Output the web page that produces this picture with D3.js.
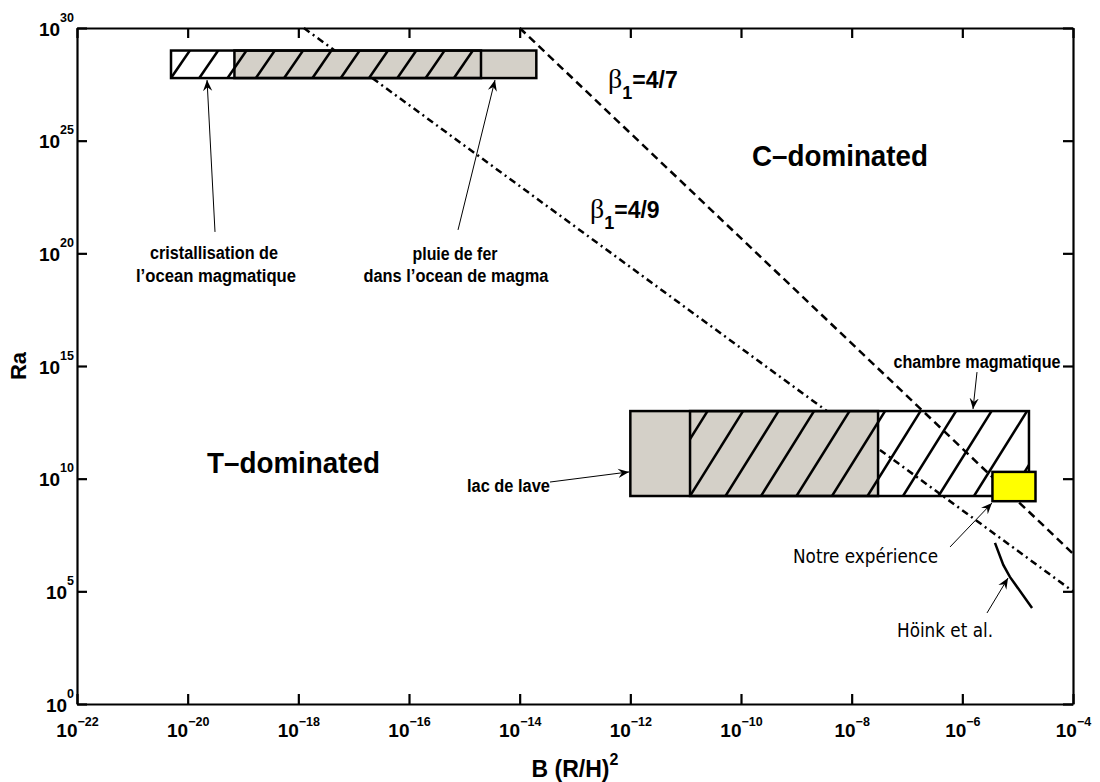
<!DOCTYPE html>
<html><head><meta charset="utf-8">
<script src="https://cdn.jsdelivr.net/npm/d3@7"></script>
<style>body{margin:0;background:#fff}svg{display:block}</style>
</head><body>
<svg id="c" width="1100" height="782"></svg>
<script>
// ---------- data ----------
const xTickExp = [-22,-20,-18,-16,-14,-12,-10,-8,-6,-4];
const yTickExp = [0,5,10,15,20,25,30];

const regionNames = ["cristallisation de l'ocean magmatique","pluie de fer dans l'ocean de magma","lac de lave","chambre magmatique","Notre expérience"];
const regionBmin  = [5e-21, 7e-20, 1e-12, 1.2e-11, 3.5e-6];
const regionBmax  = [2e-15, 2e-14, 3e-8, 1.6e-5, 2.1e-5];
const regionRamin = [6e27, 6e27, 1.7e9, 1.7e9, 1e9];
const regionRamax = [1e29, 1e29, 1e13, 1e13, 2e10];
const regionKind  = ["hatch","gray","gray","hatch","yellow"];

const betaNames = ["4/7","4/9"];
const betaB  = [[1e-14, 1e-4],[1.26e-18, 1e-4]];
const betaRa = [[1e30, 4.7e6],[1e30, 1e5]];

const hoinkB  = [3.89e-6, 5.5e-6, 7.24e-6, 1.82e-5];
const hoinkRa = [1.41e7, 1.48e6, 4.37e5, 1.82e4];

// ---------- setup ----------
const svg = d3.select("#c");
const L = 77, R = 1073, T = 28, B = 704;
const x = d3.scaleLog().domain([1e-22,1e-4]).range([L,R]);
const y = d3.scaleLog().domain([1,1e30]).range([B,T]);
const X = e => x(Math.pow(10,e)), Y = e => y(Math.pow(10,e));
const SANS = "'Liberation Sans', Arial, Helvetica, sans-serif";
const GRAY = "#d4d0c8";

const defs = svg.append("defs");
defs.append("marker").attr("id","arr").attr("viewBox","0 0 10 10")
  .attr("refX",10).attr("refY",5).attr("markerWidth",11).attr("markerHeight",11)
  .attr("markerUnits","userSpaceOnUse").attr("orient","auto")
  .append("path").attr("d","M0,0.8 L10,5 L0,9.2 L3.5,5 Z").attr("fill","#000");

// ---------- beta lines (under boxes) ----------
const lineGen = d3.line().x(d=>x(d[0])).y(d=>y(d[1]));
const dashes = ["8,5","7,4,2,4"];
betaNames.forEach((n,i)=>{
  svg.append("path").datum(betaB[i].map((b,j)=>[b,betaRa[i][j]]))
    .attr("d",lineGen).attr("fill","none").attr("stroke","#000")
    .attr("stroke-width",2.5).attr("stroke-dasharray",dashes[i]);
});

// ---------- boxes ----------
const hatchSpacing = {top:28.3, bottom:35.5};
const hatchSlope = {top:0.685, bottom:0.624};
const rects = regionNames.map((n,i)=>({
  name:n, kind:regionKind[i],
  x0:x(regionBmin[i]), x1:x(regionBmax[i]),
  y0:y(regionRamax[i]), y1:y(regionRamin[i]),
  grp: regionRamin[i] > 1e20 ? "top" : "bottom"
}));
rects.filter(r=>r.kind==="gray").forEach(r=>{
  svg.append("rect").attr("x",r.x0).attr("y",r.y0).attr("width",r.x1-r.x0).attr("height",r.y1-r.y0)
    .attr("fill",GRAY);
});
rects.filter(r=>r.kind==="hatch").forEach((r,k)=>{
  const id = "clip"+k;
  defs.append("clipPath").attr("id",id).append("rect")
    .attr("x",r.x0).attr("y",r.y0).attr("width",r.x1-r.x0).attr("height",r.y1-r.y0);
  const h = r.y1-r.y0, dx = h*hatchSlope[r.grp], s = hatchSpacing[r.grp];
  const g = svg.append("g").attr("clip-path",`url(#${id})`);
  const starts = d3.range(Math.floor(-dx/s)-1, Math.ceil((r.x1-r.x0)/s)+1).map(j=>r.x0+j*s);
  g.selectAll("line").data(starts).join("line")
    .attr("x1",d=>d).attr("y1",r.y1).attr("x2",d=>d+dx).attr("y2",r.y0)
    .attr("stroke","#000").attr("stroke-width",2.5);
});
rects.filter(r=>r.kind!=="yellow").forEach(r=>{
  svg.append("rect").attr("x",r.x0).attr("y",r.y0).attr("width",r.x1-r.x0).attr("height",r.y1-r.y0)
    .attr("fill","none").attr("stroke","#000").attr("stroke-width",2.5);
});
rects.filter(r=>r.kind==="yellow").forEach(r=>{
  svg.append("rect").attr("x",r.x0).attr("y",r.y0).attr("width",r.x1-r.x0).attr("height",r.y1-r.y0)
    .attr("fill","#ffff00").attr("stroke","#000").attr("stroke-width",2.5);
});

// ---------- Höink curve ----------
svg.append("path").datum(hoinkB.map((b,i)=>[b,hoinkRa[i]]))
  .attr("d",lineGen).attr("fill","none").attr("stroke","#000").attr("stroke-width",2.5);

// ---------- axes ----------
const xt = xTickExp.map(e=>Math.pow(10,e)), yt = yTickExp.map(e=>Math.pow(10,e));
function styleAxis(g){
  g.selectAll(".domain").attr("stroke","#000").attr("stroke-width",2.2);
  g.selectAll(".tick line").attr("stroke","#000").attr("stroke-width",2.2);
}
const gb = svg.append("g").attr("transform",`translate(0,${B})`)
  .call(d3.axisBottom(x).tickValues(xt).tickSizeInner(-10).tickSizeOuter(0));
styleAxis(gb);
gb.selectAll(".tick text").each(function(d){
  const e = Math.round(Math.log10(d));
  const t = d3.select(this).text(null).attr("y",33).attr("dy",null)
    .attr("font-family",SANS).attr("font-weight","bold").attr("font-size",19).attr("fill","#000")
    .attr("text-anchor","middle");
  t.append("tspan").text("10");
  t.append("tspan").attr("dy",-11).attr("font-size",12.5).text(e<0 ? "\u2212"+(-e) : e);
});
const gl = svg.append("g").attr("transform",`translate(${L},0)`)
  .call(d3.axisLeft(y).tickValues(yt).tickSizeInner(-10).tickSizeOuter(0));
styleAxis(gl);
gl.selectAll(".tick text").each(function(d){
  const e = Math.round(Math.log10(d));
  const t = d3.select(this).text(null).attr("x",-3).attr("y",7).attr("dy",null)
    .attr("font-family",SANS).attr("font-weight","bold").attr("font-size",19).attr("fill","#000")
    .attr("text-anchor","end");
  t.append("tspan").text("10");
  t.append("tspan").attr("dy",-14).attr("font-size",12.5).text(e);
});
const gt = svg.append("g").attr("transform",`translate(0,${T})`)
  .call(d3.axisTop(x).tickValues(xt).tickSizeInner(-10).tickSizeOuter(0).tickFormat(""));
styleAxis(gt);
const gr = svg.append("g").attr("transform",`translate(${R},0)`)
  .call(d3.axisRight(y).tickValues(yt).tickSizeInner(-10).tickSizeOuter(0).tickFormat(""));
styleAxis(gr);

// axis titles
const xl = svg.append("text").attr("x",(L+R)/2).attr("y",777).attr("text-anchor","middle")
  .attr("font-family",SANS).attr("font-weight","bold").attr("font-size",23);
xl.append("tspan").text("B (R/H)");
xl.append("tspan").attr("dy",-12).attr("font-size",16).text("2");
svg.append("text").attr("transform",`translate(26,${(T+B)/2}) rotate(-90)`).attr("text-anchor","middle")
  .attr("font-family",SANS).attr("font-weight","bold").attr("font-size",22).text("Ra");

// ---------- labels ----------
function label(lb, lr, str, o){
  const t = svg.append("text").attr("x",X(lb)).attr("y",Y(lr))
    .attr("font-family",o.family||SANS).attr("font-weight",o.weight||"bold")
    .attr("font-size",o.size).attr("text-anchor",o.anchor||"start").attr("fill","#000").text(str);
  if(o.width) t.attr("textLength",o.width).attr("lengthAdjust","spacingAndGlyphs");
  return t;
}
label(-9.801, 23.876, "C\u2013dominated", {size:30, width:176});
label(-19.651, 10.252, "T\u2013dominated", {size:30, width:173});
label(-19.524, 19.749, "cristallisation de", {size:18, width:128, anchor:"middle"});
label(-19.488, 18.728, "l\u2019ocean magmatique", {size:18, width:160, anchor:"middle"});
label(-15.169, 19.705, "pluie de fer", {size:18, width:85, anchor:"middle"});
label(-15.151, 18.728, "dans l\u2019ocean de magma", {size:18, width:185, anchor:"middle"});
label(-14.952, 9.409, "lac de lave", {size:18, width:83});
label(-5.735, 14.912, "chambre magmatique", {size:18, width:167, anchor:"middle"});
label(-9.06, 6.258, "Notre expérience", {size:19, width:145, family:"'DejaVu Sans', sans-serif", weight:"normal"});
label(-7.181, 2.974, "Höink et al.", {size:19, width:96, family:"'DejaVu Sans', sans-serif", weight:"normal"});

// beta labels
const betaPos = [[-12.403, 27.338],[-12.729, 21.57]];
betaNames.forEach((n,i)=>{
  const t = svg.append("text").attr("x",X(betaPos[i][0])).attr("y",Y(betaPos[i][1])).attr("fill","#000");
  t.append("tspan").attr("font-family","'Liberation Serif','Times New Roman',serif").attr("font-size",28).text("\u03b2");
  t.append("tspan").attr("font-family",SANS).attr("font-weight","bold").attr("font-size",18).attr("dy",11).text("1");
  t.append("tspan").attr("font-family",SANS).attr("font-weight","bold").attr("font-size",23).attr("dy",-11).text("="+n);
});

// ---------- annotation arrows ----------
const arrowFrom = [[-19.506,20.95],[-15.114,21.04],[-13.452,9.85],[-5.735,14.73],[-6.222,6.97],[-5.554,4.04]];
const arrowTo   = [[-19.65,27.69],[-14.446,27.69],[-12.024,10.30],[-5.807,13.09],[-5.464,8.92],[-5.174,5.59]];
arrowFrom.forEach((f,i)=>{
  svg.append("line").attr("x1",X(f[0])).attr("y1",Y(f[1])).attr("x2",X(arrowTo[i][0])).attr("y2",Y(arrowTo[i][1]))
    .attr("stroke","#000").attr("stroke-width",1).attr("marker-end","url(#arr)");
});
</script>
</body></html>
